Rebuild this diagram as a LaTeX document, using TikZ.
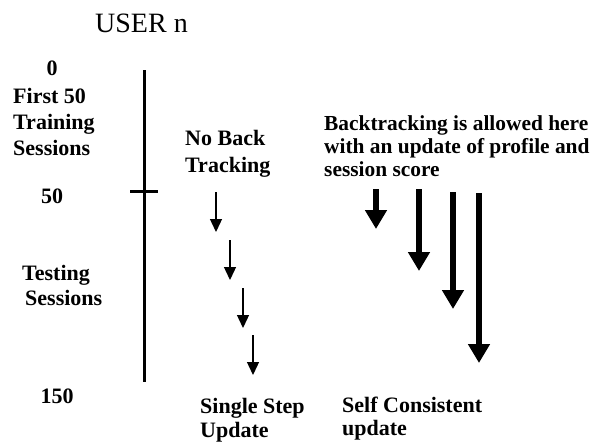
\documentclass[tikz,border=0pt]{standalone}
\usepackage{fontspec}
\setmainfont{Liberation Serif}
\usetikzlibrary{arrows.meta}
% stacked left-aligned lines whose baseline is that of the first line
\newcommand\txtlines[1]{\vtop{\halign{##\hfil\cr#1\crcr}}}
\begin{document}
\begin{tikzpicture}[x=1pt,y=-1pt,
  lbl/.style={inner sep=0pt,anchor=base west,font=\fontsize{22}{26}\selectfont\bfseries},
  ttl/.style={inner sep=0pt,anchor=base west,font=\fontsize{28}{32}\selectfont},
  axis/.style={line width=3pt},
  smallarrow/.style={line width=1.3pt,-{Triangle[width=12pt,length=13pt]}},
  bigarrow/.style={line width=6pt,-{Triangle[width=21pt,length=19pt]}}]
  \useasboundingbox (0,0) rectangle (593,442);

  % title
  \node[ttl] (title) at (95,32) {USER n};

  % time axis with the end of the training phase marked
  \coordinate (top) at (144,70);
  \coordinate (bot) at (144,382);
  \coordinate (tickL) at (130,191);
  \coordinate (tickR) at (158,191);
  \draw[axis] (top) -- (bot);
  \draw[axis] (tickL) -- (tickR);

  % axis labels
  \node[lbl,anchor=base] (s0) at (52,75) {0};
  \node[lbl] (train) at (13,103) {\baselineskip=26pt\txtlines{First 50\cr Training\cr Sessions}};
  \node[lbl,anchor=base] (s50) at (52,203) {50};
  \node[lbl] (test) at (22,280) {\baselineskip=25pt\txtlines{Testing\cr \kern3pt Sessions}};
  \node[lbl,anchor=base] (s150) at (57,403) {150};

  % single step updates
  \node[lbl] (noback) at (185,145) {\baselineskip=27pt\txtlines{No Back\cr Tracking}};
  \coordinate (a1s) at (216,192); \coordinate (a1e) at (216,232);
  \coordinate (a2s) at (230,240); \coordinate (a2e) at (230,280);
  \coordinate (a3s) at (243,288); \coordinate (a3e) at (243,328);
  \coordinate (a4s) at (253,335); \coordinate (a4e) at (253,375);
  \draw[smallarrow] (a1s) -- (a1e);
  \draw[smallarrow] (a2s) -- (a2e);
  \draw[smallarrow] (a3s) -- (a3e);
  \draw[smallarrow] (a4s) -- (a4e);
  \node[lbl] (single) at (200,413) {\baselineskip=24pt\txtlines{Single Step\cr Update}};

  % self consistent updates
  \node[lbl,font=\fontsize{21.4}{23}\selectfont\bfseries] (backtrack) at (324,130)
    {\baselineskip=23pt\txtlines{Backtracking is allowed here\cr with an update of profile and\cr session score}};
  \coordinate (b1s) at (376,189); \coordinate (b1e) at (376,229);
  \coordinate (b2s) at (419,189); \coordinate (b2e) at (419,271);
  \coordinate (b3s) at (453,192); \coordinate (b3e) at (453,309);
  \coordinate (b4s) at (479,193); \coordinate (b4e) at (479,363);
  \draw[bigarrow] (b1s) -- (b1e);
  \draw[bigarrow] (b2s) -- (b2e);
  \draw[bigarrow] (b3s) -- (b3e);
  \draw[bigarrow] (b4s) -- (b4e);
  \node[lbl] (selfc) at (342,412) {\baselineskip=23pt\txtlines{Self Consistent\cr update}};
\end{tikzpicture}
\end{document}
